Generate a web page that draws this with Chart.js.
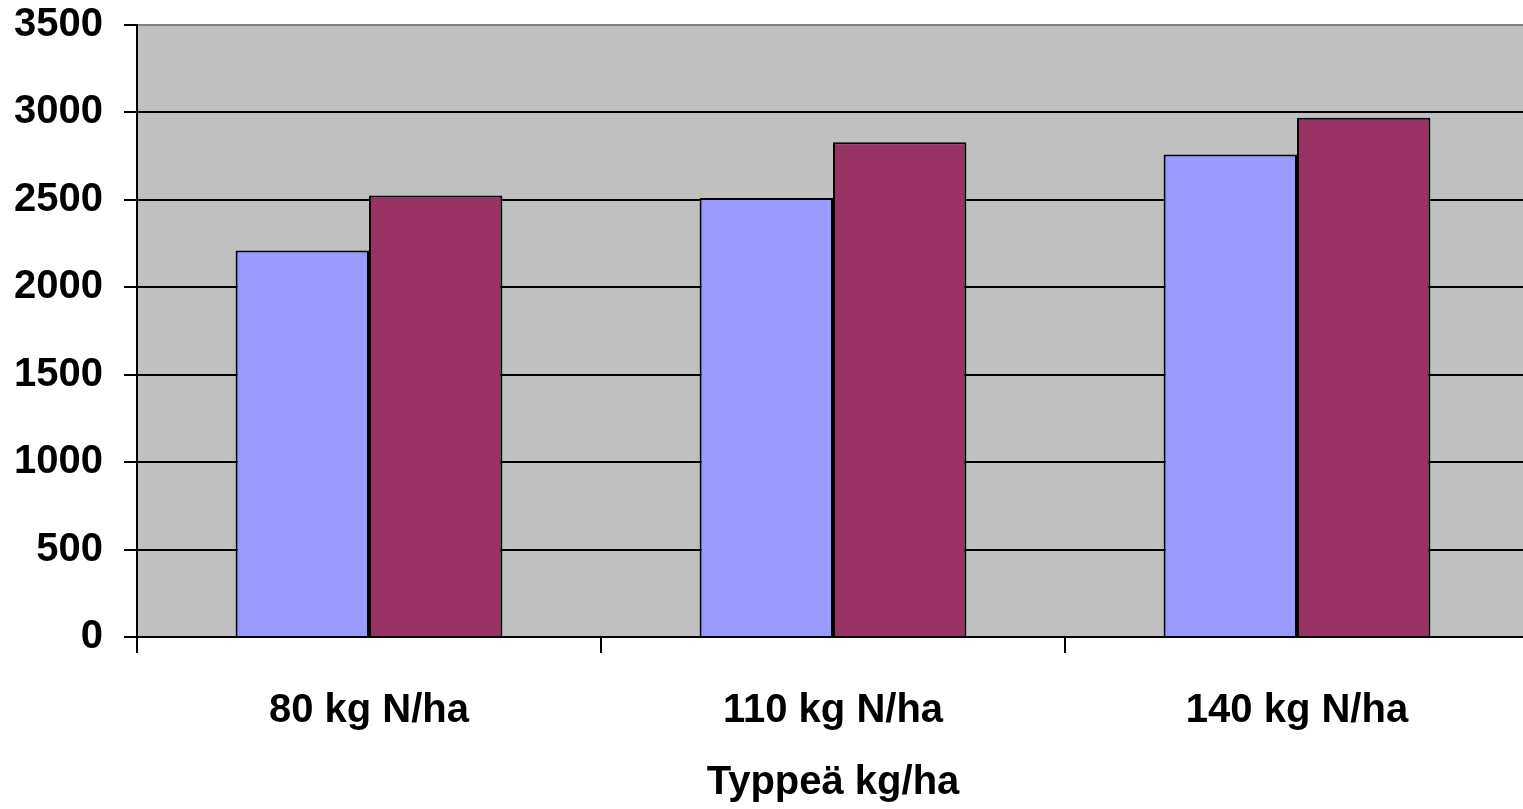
<!DOCTYPE html>
<html lang="fi">
<head>
    <meta charset="UTF-8">
    <title>Typpilannoitus ja sato</title>
    <script src="https://cdn.jsdelivr.net/npm/chart.js"></script>
    <style>
        html, body {
            margin: 0;
            padding: 0;
            background: #ffffff;
            overflow: hidden;
        }
        .chart-box {
            width: 1529px;
            height: 809px;
        }
    </style>
</head>
<body>
    <div class="chart-box">
        <canvas id="satoChart" width="1529" height="809"></canvas>
    </div>

    <script>
        // typpimäärät ja sadot (kg/ha)
        const kategoriat = ["80 kg N/ha", "110 kg N/ha", "140 kg N/ha"];
        const sarja1 = [2210, 2510, 2760];
        const sarja2 = [2525, 2830, 2970];
        const yTicks = [0, 500, 1000, 1500, 2000, 2500, 3000, 3500];

        const fontti = "'Liberation Sans', Arial, sans-serif";

        // harmaa tausta kuvaaja-alueelle
        const taustaPlugin = {
            id: "tausta",
            beforeDraw(chart) {
                const a = chart.chartArea;
                const ctx = chart.ctx;
                ctx.save();
                ctx.fillStyle = "#c0c0c0";
                ctx.fillRect(a.left, a.top, a.right - a.left, a.bottom - a.top);
                ctx.restore();
            }
        };

        const ctx = document.getElementById("satoChart").getContext("2d");
        new Chart(ctx, {
            type: "bar",
            data: {
                labels: kategoriat,
                datasets: [
                    {
                        label: "Sarja 1",
                        data: sarja1,
                        backgroundColor: "#9999ff",
                        borderColor: "#000000",
                        borderWidth: 2,
                        borderSkipped: "bottom"
                    },
                    {
                        label: "Sarja 2",
                        data: sarja2,
                        backgroundColor: "#993366",
                        borderColor: "#000000",
                        borderWidth: 2,
                        borderSkipped: "bottom"
                    }
                ]
            },
            options: {
                responsive: false,
                animation: false,
                layout: {
                    padding: { top: 25, right: 0, bottom: 0, left: 0 }
                },
                datasets: {
                    bar: {
                        categoryPercentage: 0.575,
                        barPercentage: 1.0
                    }
                },
                scales: {
                    x: {
                        grid: {
                            offset: true,
                            drawOnChartArea: false,
                            tickLength: 16,
                            tickColor: "#000000",
                            lineWidth: 2
                        },
                        border: { color: "#000000", width: 2 },
                        ticks: {
                            color: "#000000",
                            padding: 34,
                            font: { family: fontti, size: 40, weight: "bold" }
                        },
                        title: {
                            display: true,
                            text: "Typpeä kg/ha",
                            color: "#000000",
                            padding: { top: 0, bottom: 2 },
                            font: { family: fontti, size: 40, weight: "bold" }
                        },
                        afterFit(scale) {
                            scale.height = 172;
                            scale.paddingLeft = 0;
                            scale.paddingRight = 0;
                        }
                    },
                    y: {
                        min: 0,
                        max: 3500,
                        afterBuildTicks(scale) {
                            scale.ticks = yTicks.map(v => ({ value: v }));
                        },
                        grid: {
                            color: c => (c.tick && c.tick.value === 3500 ? "#808080" : "#000000"),
                            tickColor: "#000000",
                            tickLength: 13,
                            lineWidth: 2
                        },
                        border: { color: "#000000", width: 2 },
                        ticks: {
                            color: "#000000",
                            padding: 21,
                            font: { family: fontti, size: 40, weight: "bold" },
                            callback: v => String(v)
                        },
                        afterFit(scale) {
                            scale.width = 137;
                            scale.paddingTop = 0;
                            scale.paddingBottom = 0;
                        }
                    }
                },
                plugins: {
                    legend: { display: false },
                    tooltip: { enabled: false }
                }
            },
            plugins: [taustaPlugin]
        });
    </script>
</body>
</html>
